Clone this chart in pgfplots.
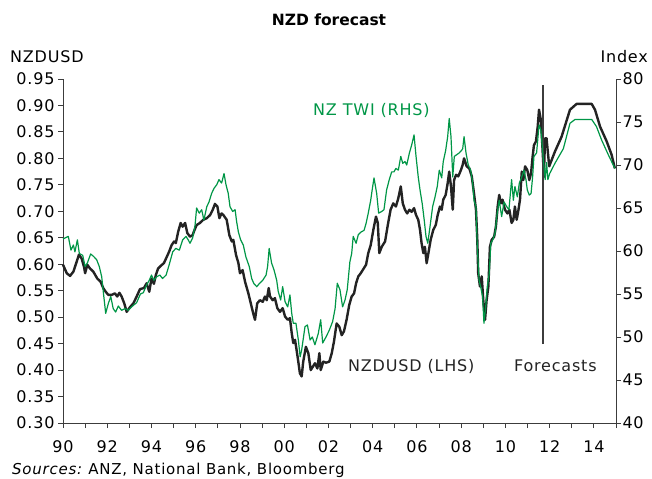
\documentclass[border=0pt]{standalone}
\usepackage{pgfplots}
\pgfplotsset{compat=1.18}
\usepackage{fontspec}
\setmainfont{DejaVu Sans}[LetterSpace=5]
\newfontfamily\titlefont{DejaVu Sans}
\definecolor{twi}{RGB}{0,150,70}
\definecolor{usd}{RGB}{35,35,35}
\definecolor{axgray}{RGB}{60,60,60}
\begin{document}
\begin{tikzpicture}[font=\fontsize{16bp}{19bp}\selectfont]
\begin{axis}[scale only axis, width=553bp, height=344bp, at={(0,0)}, anchor=south west,
 xmin=1990, xmax=2015, ymin=0.30, ymax=0.95,
 axis x line*=bottom, axis y line*=left,
 axis line style={-, axgray, line width=0.9bp},
 xtick={1990,1991,...,2015},
 xticklabels={90,,92,,94,,96,,98,,00,,02,,04,,06,,08,,10,,12,,14,},
 ytick={0.30,0.35,0.40,0.45,0.50,0.55,0.60,0.65,0.70,0.75,0.80,0.85,0.90,0.95},
 tick align=outside, major tick length=5bp,
 tick style={axgray, line width=0.9bp},
 yticklabel style={/pgf/number format/.cd, fixed, fixed zerofill, precision=2, assume math mode=true},
 xticklabel style={yshift=-9bp},
 ticklabel style={font=\fontsize{16bp}{19bp}\selectfont},
 clip=false]
\addplot[usd, line width=2.4bp, line join=round] coordinates {
(1990.00,0.599)(1990.17,0.583)(1990.32,0.578)(1990.47,0.586)(1990.62,0.605)(1990.72,0.618)(1990.84,0.611)(1990.95,0.595)(1991.00,0.583)(1991.10,0.599)(1991.22,0.592)(1991.37,0.586)(1991.55,0.573)(1991.70,0.567)(1991.82,0.555)(1991.93,0.548)(1992.05,0.542)(1992.20,0.542)(1992.35,0.545)(1992.45,0.539)(1992.55,0.546)(1992.65,0.539)(1992.77,0.526)(1992.88,0.510)(1993.03,0.519)(1993.18,0.526)(1993.33,0.539)(1993.48,0.553)(1993.66,0.555)(1993.78,0.564)(1993.90,0.548)(1994.00,0.573)(1994.11,0.563)(1994.20,0.580)(1994.30,0.592)(1994.42,0.597)(1994.56,0.602)(1994.66,0.611)(1994.80,0.624)(1994.91,0.636)(1995.02,0.643)(1995.10,0.640)(1995.21,0.662)(1995.32,0.678)(1995.41,0.671)(1995.52,0.678)(1995.62,0.659)(1995.74,0.652)(1995.86,0.655)(1995.92,0.662)(1996.04,0.674)(1996.19,0.678)(1996.34,0.684)(1996.50,0.687)(1996.65,0.693)(1996.77,0.703)(1996.87,0.714)(1996.98,0.709)(1997.07,0.687)(1997.17,0.696)(1997.25,0.693)(1997.40,0.684)(1997.52,0.655)(1997.63,0.643)(1997.70,0.646)(1997.82,0.618)(1997.93,0.602)(1998.00,0.583)(1998.12,0.589)(1998.23,0.567)(1998.38,0.545)(1998.49,0.526)(1998.60,0.507)(1998.68,0.495)(1998.78,0.526)(1998.90,0.532)(1999.03,0.529)(1999.13,0.539)(1999.21,0.532)(1999.30,0.555)(1999.36,0.539)(1999.48,0.532)(1999.58,0.536)(1999.69,0.517)(1999.81,0.510)(1999.93,0.517)(2000.04,0.501)(2000.16,0.495)(2000.26,0.498)(2000.34,0.470)(2000.41,0.451)(2000.49,0.457)(2000.56,0.438)(2000.64,0.415)(2000.71,0.394)(2000.79,0.388)(2000.86,0.416)(2000.98,0.444)(2001.09,0.432)(2001.20,0.400)(2001.29,0.406)(2001.39,0.413)(2001.50,0.403)(2001.59,0.432)(2001.65,0.400)(2001.77,0.416)(2001.89,0.414)(2002.04,0.416)(2002.15,0.432)(2002.25,0.454)(2002.37,0.488)(2002.49,0.482)(2002.60,0.466)(2002.70,0.473)(2002.82,0.495)(2002.94,0.523)(2003.05,0.539)(2003.16,0.545)(2003.25,0.564)(2003.35,0.577)(2003.46,0.583)(2003.58,0.591)(2003.70,0.599)(2003.80,0.621)(2003.91,0.636)(2004.03,0.665)(2004.15,0.690)(2004.23,0.678)(2004.30,0.621)(2004.41,0.633)(2004.56,0.643)(2004.70,0.678)(2004.81,0.703)(2004.93,0.715)(2005.05,0.709)(2005.16,0.725)(2005.27,0.747)(2005.36,0.715)(2005.46,0.703)(2005.56,0.696)(2005.66,0.703)(2005.76,0.699)(2005.87,0.706)(2005.96,0.693)(2006.06,0.684)(2006.14,0.665)(2006.21,0.640)(2006.29,0.621)(2006.36,0.633)(2006.44,0.602)(2006.52,0.621)(2006.62,0.646)(2006.74,0.665)(2006.85,0.674)(2006.94,0.693)(2007.04,0.709)(2007.12,0.703)(2007.19,0.722)(2007.30,0.731)(2007.39,0.753)(2007.46,0.775)(2007.54,0.747)(2007.62,0.703)(2007.68,0.759)(2007.77,0.769)(2007.87,0.766)(2007.99,0.778)(2008.07,0.788)(2008.13,0.800)(2008.25,0.785)(2008.37,0.781)(2008.48,0.766)(2008.58,0.734)(2008.67,0.703)(2008.73,0.646)(2008.77,0.583)(2008.85,0.558)(2008.93,0.577)(2009.00,0.532)(2009.08,0.495)(2009.15,0.532)(2009.23,0.558)(2009.30,0.633)(2009.38,0.646)(2009.49,0.652)(2009.57,0.671)(2009.65,0.709)(2009.72,0.731)(2009.80,0.715)(2009.87,0.722)(2009.98,0.703)(2010.09,0.696)(2010.18,0.703)(2010.28,0.678)(2010.36,0.684)(2010.43,0.709)(2010.51,0.684)(2010.58,0.700)(2010.66,0.722)(2010.74,0.775)(2010.81,0.759)(2010.89,0.785)(2010.99,0.778)(2011.08,0.759)(2011.16,0.772)(2011.23,0.803)(2011.29,0.825)(2011.38,0.832)(2011.46,0.860)(2011.52,0.892)(2011.60,0.873)(2011.64,0.848)(2011.70,0.800)(2011.74,0.765)(2011.79,0.838)(2011.86,0.838)(2011.98,0.785)(2012.24,0.813)(2012.54,0.841)(2012.92,0.892)(2013.22,0.903)(2013.90,0.903)(2014.05,0.892)(2014.28,0.860)(2014.58,0.832)(2014.80,0.807)(2014.95,0.781)
};
\addplot[axgray, line width=1.5bp] coordinates {(2011.7,0.449)(2011.7,0.939)};
\end{axis}
\begin{axis}[scale only axis, width=553bp, height=344bp, at={(0,0)}, anchor=south west,
 xmin=1990, xmax=2015, ymin=40, ymax=80,
 axis x line=none, axis y line*=right,
 axis line style={-, axgray, line width=0.9bp},
 ytick={40,45,...,80},
 tick align=outside, major tick length=5bp,
 tick style={axgray, line width=0.9bp},
 yticklabel style={/pgf/number format/assume math mode=true, xshift=-2bp},
 ticklabel style={font=\fontsize{16bp}{19bp}\selectfont},
 clip=false]
\addplot[twi, line width=1.2bp, line join=round] coordinates {
(1990.00,61.4)(1990.24,61.7)(1990.36,60.1)(1990.47,60.7)(1990.54,59.9)(1990.65,61.3)(1990.74,59.7)(1990.89,59.5)(1991.00,58.2)(1991.10,58.6)(1991.25,59.65)(1991.37,59.4)(1991.52,59.0)(1991.64,58.2)(1991.75,57.0)(1991.82,55.3)(1991.93,52.75)(1992.05,53.9)(1992.16,54.7)(1992.27,53.3)(1992.38,52.9)(1992.50,53.6)(1992.65,53.1)(1992.80,53.3)(1992.95,53.1)(1993.10,53.5)(1993.33,54.0)(1993.50,55.0)(1993.63,55.15)(1993.78,56.05)(1993.90,56.6)(1994.00,57.2)(1994.11,56.6)(1994.23,57.0)(1994.38,57.2)(1994.50,56.8)(1994.66,57.2)(1994.80,58.4)(1994.96,59.9)(1995.10,60.3)(1995.26,60.1)(1995.41,61.3)(1995.56,61.7)(1995.66,61.3)(1995.74,60.9)(1995.86,61.5)(1995.97,63.0)(1996.04,65.0)(1996.16,64.4)(1996.27,64.8)(1996.37,63.6)(1996.50,65.15)(1996.60,65.7)(1996.72,66.7)(1996.83,67.3)(1996.95,67.7)(1997.05,68.3)(1997.17,67.9)(1997.28,69.0)(1997.37,67.7)(1997.47,66.7)(1997.55,65.15)(1997.67,64.6)(1997.78,64.8)(1997.85,63.4)(1997.93,62.2)(1998.03,61.3)(1998.15,60.7)(1998.27,59.3)(1998.42,58.2)(1998.53,56.8)(1998.63,56.2)(1998.76,55.85)(1998.87,56.2)(1999.03,56.6)(1999.18,57.2)(1999.25,58.2)(1999.32,60.3)(1999.43,58.6)(1999.54,57.8)(1999.66,56.6)(1999.73,55.3)(1999.84,54.3)(1999.93,55.85)(2000.04,54.1)(2000.16,53.5)(2000.26,54.9)(2000.34,52.75)(2000.41,51.6)(2000.53,51.6)(2000.64,49.65)(2000.72,47.7)(2000.79,48.5)(2000.94,51.2)(2001.05,51.4)(2001.17,49.65)(2001.27,50.0)(2001.39,49.1)(2001.54,50.4)(2001.65,52.0)(2001.74,49.3)(2001.89,50.0)(2002.04,50.8)(2002.19,51.8)(2002.30,53.3)(2002.40,56.25)(2002.52,55.5)(2002.64,53.5)(2002.75,54.3)(2002.85,55.5)(2002.97,58.75)(2003.05,59.7)(2003.12,61.7)(2003.25,60.9)(2003.35,61.9)(2003.47,62.2)(2003.61,62.4)(2003.70,63.2)(2003.80,64.4)(2003.91,65.9)(2004.00,67.5)(2004.06,68.5)(2004.18,66.7)(2004.27,64.4)(2004.41,64.6)(2004.51,64.8)(2004.63,67.1)(2004.75,68.3)(2004.86,69.2)(2004.96,69.2)(2005.05,69.6)(2005.16,69.4)(2005.27,71.0)(2005.36,70.2)(2005.46,70.4)(2005.54,70.0)(2005.66,71.4)(2005.76,72.3)(2005.87,73.5)(2005.96,71.0)(2006.06,68.6)(2006.14,67.1)(2006.24,65.5)(2006.33,63.6)(2006.41,61.7)(2006.49,60.9)(2006.59,62.8)(2006.71,65.15)(2006.82,66.3)(2006.92,67.5)(2007.01,69.4)(2007.12,68.5)(2007.19,70.4)(2007.30,71.7)(2007.39,73.3)(2007.46,75.4)(2007.54,73.3)(2007.62,68.6)(2007.69,71.0)(2007.80,71.2)(2007.91,71.4)(2008.02,71.7)(2008.07,71.9)(2008.13,73.3)(2008.22,71.4)(2008.32,70.0)(2008.43,69.4)(2008.52,67.9)(2008.58,65.9)(2008.67,65.15)(2008.73,60.5)(2008.81,56.6)(2008.88,55.85)(2008.97,54.7)(2009.03,51.6)(2009.11,53.5)(2009.18,55.85)(2009.27,57.4)(2009.34,60.9)(2009.43,61.3)(2009.53,62.05)(2009.63,64.4)(2009.72,65.9)(2009.83,64.0)(2009.94,65.7)(2010.06,65.15)(2010.16,64.8)(2010.28,68.3)(2010.36,65.9)(2010.43,67.5)(2010.54,66.3)(2010.63,67.9)(2010.74,68.6)(2010.84,69.4)(2010.93,68.3)(2010.99,67.1)(2011.08,66.5)(2011.16,66.7)(2011.23,68.6)(2011.29,71.0)(2011.41,71.4)(2011.52,74.65)(2011.60,74.1)(2011.64,72.9)(2011.72,70.6)(2011.80,68.3)(2011.86,70.3)(2011.92,68.3)(2012.00,69.0)(2012.24,70.2)(2012.62,71.9)(2012.92,74.85)(2013.15,75.3)(2013.90,75.3)(2014.12,74.45)(2014.35,72.9)(2014.65,71.2)(2014.95,69.6)
};
\end{axis}
\path (-63bp,-56bp) rectangle (589bp,423bp);
\node[anchor=base, font=\titlefont\fontsize{15.5bp}{18bp}\selectfont\bfseries] at (266bp,397bp) {NZD forecast};
\node[anchor=base west, inner sep=0pt] at (-53bp,360bp) {NZDUSD};
\node[anchor=base east, inner sep=0pt] at (585bp,360bp) {Index};
\node[anchor=base west, inner sep=0pt, text=twi] at (250bp,307bp) {NZ TWI (RHS)};
\node[anchor=base west, inner sep=0pt, text=usd] at (285bp,51bp) {NZDUSD (LHS)};
\node[anchor=base west, inner sep=0pt, text=usd] at (451bp,51bp) {Forecasts};
\node[anchor=base west, inner sep=0pt, font=\fontsize{15bp}{18bp}\selectfont] at (-51bp,-51bp) {\textit{Sources:}\ ANZ, National Bank, Bloomberg};
\end{tikzpicture}
\end{document}
